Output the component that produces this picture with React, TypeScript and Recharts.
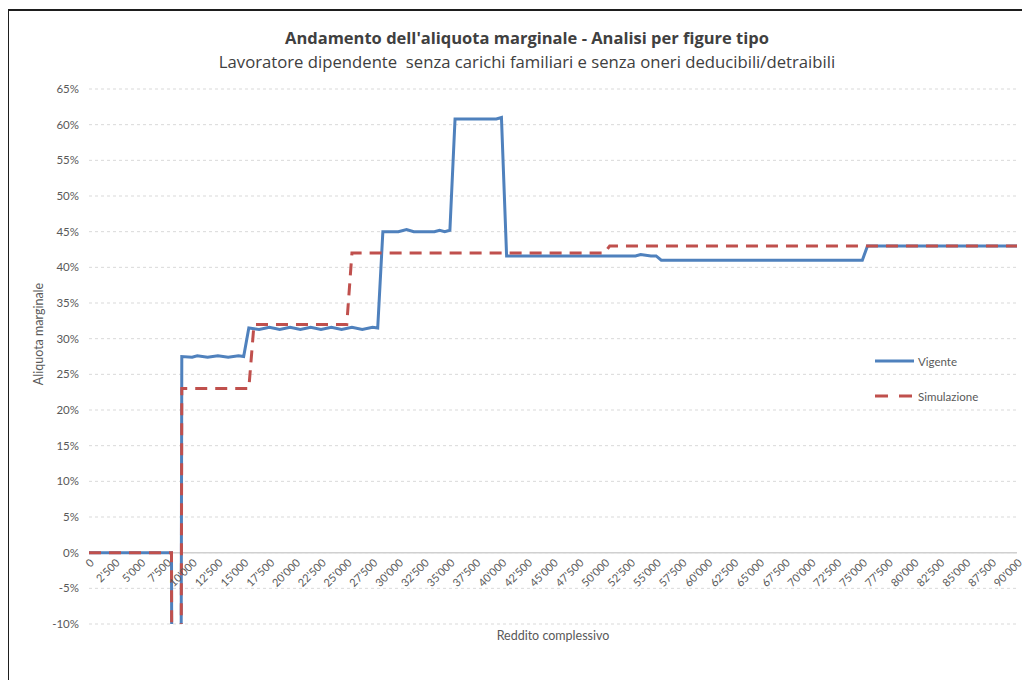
import React from 'react';
import { LineChart, Line, XAxis, YAxis, CartesianGrid, ReferenceLine } from 'recharts';

// Reddito complessivo (breakpoints) and marginal rate for "Vigente"
const vigenteIncome = [
  0, 8000, 8500, 9000, 10000, 10500, 11500, 12500, 13500, 14500, 15000,
  15500, 16500, 17500, 18500, 19500, 20500, 21500, 22500, 23500, 24500, 25500, 26500, 27500, 28000,
  28500, 30000, 30800, 31500, 33500, 34000, 34500, 35000,
  35500, 39500, 40000,
  40500, 53000, 53500, 54500, 55000,
  55500, 75000,
  75500, 90000,
];
const vigenteRate = [
  0, 0, -3, 0.275, 0.274, 0.276, 0.274, 0.276, 0.274, 0.276, 0.275,
  0.315, 0.313, 0.316, 0.313, 0.316, 0.313, 0.316, 0.313, 0.316, 0.313, 0.316, 0.313, 0.316, 0.315,
  0.45, 0.45, 0.453, 0.45, 0.45, 0.452, 0.45, 0.452,
  0.608, 0.608, 0.61,
  0.416, 0.416, 0.418, 0.416, 0.416,
  0.41, 0.41,
  0.43, 0.43,
];

// Reddito complessivo (breakpoints) and marginal rate for "Simulazione"
const simulazioneIncome = [0, 8000, 8500, 9000, 15500, 16000, 25000, 25500, 50000, 50500, 90000];
const simulazioneRate = [0, 0, -3, 0.23, 0.23, 0.32, 0.32, 0.42, 0.42, 0.43, 0.43];

const xTicks = [
  0, 2500, 5000, 7500, 10000, 12500, 15000, 17500, 20000, 22500, 25000, 27500, 30000,
  32500, 35000, 37500, 40000, 42500, 45000, 47500, 50000, 52500, 55000, 57500, 60000,
  62500, 65000, 67500, 70000, 72500, 75000, 77500, 80000, 82500, 85000, 87500, 90000,
];
const yTicks = [-0.1, -0.05, 0, 0.05, 0.1, 0.15, 0.2, 0.25, 0.3, 0.35, 0.4, 0.45, 0.5, 0.55, 0.6, 0.65];

const seriesNames = ['Vigente', 'Simulazione'];
const seriesColors = ['#4f81bd', '#c0504d'];

const vigenteData = vigenteIncome.map((x, i) => ({ x, v: vigenteRate[i] }));
const simulazioneData = simulazioneIncome.map((x, i) => ({ x, v: simulazioneRate[i] }));

const W = 1030;
const H = 688;
const M = { top: 89, right: 13, bottom: 34, left: 0 };
const YAXIS_W = 89;
const XAXIS_H = 30;
const Y_MIN = -0.1;
const Y_MAX = 0.65;
const PLOT_H = H - M.top - M.bottom - XAXIS_H;
const Y0 = M.top + (PLOT_H * Y_MAX) / (Y_MAX - Y_MIN);

const FONT = 'Lato, "Open Sans", sans-serif';
const TITLE_FONT = '"Open Sans", Lato, sans-serif';
const TICK_COLOR = '#595959';

const fmtX = (v: number) =>
  v === 0 ? '0' : `${Math.floor(v / 1000)}'${String(v % 1000).padStart(3, '0')}`;
const fmtY = (v: number) => `${Math.round(v * 100)}%`;

const XTick = (props: any) => {
  const { x, payload } = props;
  const tx = x + 3;
  const ty = Y0 + 8;
  return (
    <text
      x={tx}
      y={ty}
      transform={`rotate(-45 ${tx} ${ty})`}
      textAnchor="end"
      fontSize={11}
      fontFamily={FONT}
      fill={TICK_COLOR}
      dy="0.35em"
    >
      {fmtX(payload.value)}
    </text>
  );
};

export default function App() {
  return (
    <div style={{ position: 'relative', width: W, height: H, margin: -8, background: '#fff', overflow: 'hidden', fontFamily: FONT }}>
      <div style={{ position: 'absolute', left: 7, top: 9, width: 1017, height: 700, border: '2px solid #1e1e1e' }} />
      <div style={{ position: 'absolute', left: 0, width: 1054, top: 26, lineHeight: '24px', textAlign: 'center', fontSize: 16.5, fontWeight: 700, color: '#404040', fontFamily: TITLE_FONT }}>
        Andamento dell'aliquota marginale - Analisi per figure tipo
      </div>
      <div style={{ position: 'absolute', left: 0, width: 1054, top: 50, lineHeight: '24px', textAlign: 'center', fontSize: 16.7, color: '#404040', fontFamily: TITLE_FONT }}>
        Lavoratore dipendente&nbsp; senza carichi familiari e senza oneri deducibili/detraibili
      </div>
      <div style={{ position: 'absolute', left: 0, top: 0 }}>
        <LineChart width={W} height={H} margin={M}>
          <CartesianGrid horizontal vertical={false} stroke="#d9d9d9" strokeDasharray="3 3" />
          <XAxis
            type="number"
            dataKey="x"
            domain={[0, 90000]}
            ticks={xTicks}
            interval={0}
            axisLine={false}
            tickLine={false}
            height={XAXIS_H}
            tick={<XTick />}
          />
          <YAxis
            type="number"
            domain={[Y_MIN, Y_MAX]}
            ticks={yTicks}
            allowDataOverflow
            interval={0}
            axisLine={false}
            tickLine={false}
            tickSize={0}
            tickMargin={10}
            width={YAXIS_W}
            tickFormatter={fmtY}
            tick={{ fontSize: 11.5, fill: TICK_COLOR, fontFamily: FONT }}
          />
          <ReferenceLine y={0} stroke="#d0d0d0" strokeWidth={1.5} />
          <Line
            data={vigenteData}
            dataKey="v"
            name={seriesNames[0]}
            type="linear"
            stroke={seriesColors[0]}
            strokeWidth={3}
            dot={false}
            activeDot={false}
            isAnimationActive={false}
          />
          <Line
            data={simulazioneData}
            dataKey="v"
            name={seriesNames[1]}
            type="linear"
            stroke={seriesColors[1]}
            strokeWidth={3}
            strokeDasharray="12 8"
            dot={false}
            activeDot={false}
            isAnimationActive={false}
          />
        </LineChart>
      </div>
      <div style={{ position: 'absolute', left: 38, top: 334, width: 0, height: 0 }}>
        <div style={{ position: 'absolute', left: 0, top: 0, transform: 'translate(-50%, -50%) rotate(-90deg)', whiteSpace: 'nowrap', fontSize: 12.5, color: TICK_COLOR }}>
          Aliquota marginale
        </div>
      </div>
      <div style={{ position: 'absolute', left: 453, width: 200, top: 628, textAlign: 'center', fontSize: 12.5, color: TICK_COLOR }}>
        Reddito complessivo
      </div>
      {seriesNames.map((name, i) => (
        <div key={name} style={{ position: 'absolute', left: 875, top: 353 + i * 35, display: 'flex', alignItems: 'center', height: 16 }}>
          <svg width={40} height={16}>
            <line
              x1={0}
              x2={39}
              y1={8}
              y2={8}
              stroke={seriesColors[i]}
              strokeWidth={3}
              strokeDasharray={i === 1 ? '13 11' : undefined}
            />
          </svg>
          <span style={{ marginLeft: 3, fontSize: 11.5, color: TICK_COLOR }}>{name}</span>
        </div>
      ))}
    </div>
  );
}
